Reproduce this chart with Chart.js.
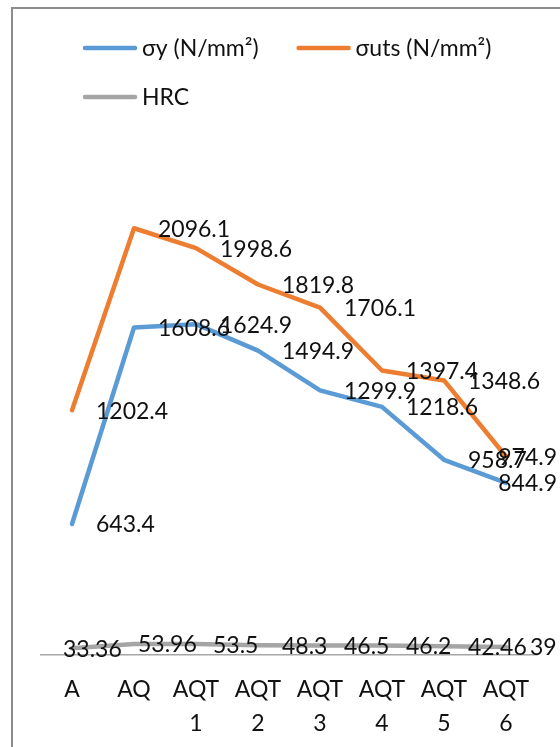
<!DOCTYPE html>
<html>
<head>
<meta charset="utf-8">
<script src="https://cdn.jsdelivr.net/npm/chart.js@4.4.1/dist/chart.umd.min.js"></script>
<style>
  html, body { margin: 0; padding: 0; background: #fff; }
  #wrap { width: 560px; height: 747px; position: relative; }
</style>
</head>
<body>
<div id="wrap"><canvas id="c" width="560" height="747"></canvas></div>
<script>
// Heat-treatment conditions along the x axis
const categories = ['A', 'AQ', ['AQT', '1'], ['AQT', '2'], ['AQT', '3'], ['AQT', '4'], ['AQT', '5'], ['AQT', '6']];
// Yield strength, N/mm²
const yieldStrength = [643.4, 1608.6, 1624.9, 1494.9, 1299.9, 1218.6, 958.7, 844.9];
// Ultimate tensile strength, N/mm²
const tensileStrength = [1202.4, 2096.1, 1998.6, 1819.8, 1706.1, 1397.4, 1348.6, 974.9];
// Rockwell C hardness
const hardness = [33.36, 53.96, 53.5, 48.3, 46.5, 46.2, 42.46, 39];

const seriesNames = ['σy (N/mm²)', 'σuts (N/mm²)', 'HRC'];
const FONT_FAMILY = 'Lato, "Noto Sans", "DejaVu Sans", sans-serif';
const FONT_SIZE = 23;

// White background and the thin frame around the chart
const framePlugin = {
  id: 'frame',
  beforeDraw(chart) {
    const ctx = chart.ctx;
    ctx.save();
    ctx.fillStyle = '#fff';
    ctx.fillRect(0, 0, chart.width, chart.height);
    ctx.strokeStyle = '#8c8c8c';
    ctx.lineWidth = 2;
    ctx.beginPath();
    ctx.moveTo(12, chart.height);
    ctx.lineTo(12, 8);
    ctx.lineTo(chart.width, 8);
    ctx.stroke();
    ctx.restore();
  }
};

// Value labels placed to the right of each point
const valueLabels = {
  id: 'valueLabels',
  afterDatasetsDraw(chart, args, opts) {
    const ctx = chart.ctx;
    ctx.save();
    ctx.font = FONT_SIZE + 'px ' + FONT_FAMILY;
    ctx.fillStyle = opts.color;
    ctx.textBaseline = 'middle';
    ctx.textAlign = 'left';
    chart.data.datasets.forEach((ds, i) => {
      const meta = chart.getDatasetMeta(i);
      const nudge = (opts.nudges && opts.nudges[i]) || [];
      meta.data.forEach((pt, j) => {
        const text = String(ds.data[j]);
        const w = ctx.measureText(text).width;
        let x = pt.x + opts.offset + (nudge[j] || 0);
        x = Math.min(x, opts.rightLimit - w);
        ctx.fillText(text, x, pt.y + opts.dy);
      });
    });
    ctx.restore();
  }
};

// Legend: line swatch + name, wrapping onto a second row
const lineLegend = {
  id: 'lineLegend',
  afterDraw(chart, args, opts) {
    const ctx = chart.ctx;
    ctx.save();
    ctx.font = FONT_SIZE + 'px ' + FONT_FAMILY;
    ctx.textBaseline = 'middle';
    ctx.textAlign = 'left';
    let x = opts.left, y = opts.top;
    chart.data.datasets.forEach((ds) => {
      const w = opts.swatch + opts.gap + ctx.measureText(ds.label).width;
      if (x > opts.left && x + w > opts.right) {
        x = opts.left;
        y += opts.rowHeight;
      }
      ctx.strokeStyle = ds.borderColor;
      ctx.lineWidth = ds.borderWidth;
      ctx.lineCap = 'round';
      ctx.beginPath();
      ctx.moveTo(x + 2, y);
      ctx.lineTo(x + opts.swatch - 2, y);
      ctx.stroke();
      ctx.fillStyle = '#111';
      ctx.fillText(ds.label, x + opts.swatch + opts.gap, y + 1);
      x += w + opts.itemGap;
    });
    ctx.restore();
  }
};

const lineStyle = { borderWidth: 4.5, pointRadius: 0, pointHoverRadius: 0, tension: 0,
  borderJoinStyle: 'round', borderCapStyle: 'round', fill: false };

new Chart(document.getElementById('c'), {
  type: 'line',
  data: {
    labels: categories,
    datasets: [
      { label: seriesNames[0], data: yieldStrength, borderColor: '#5b9bd5', ...lineStyle },
      { label: seriesNames[1], data: tensileStrength, borderColor: '#ed7d31', ...lineStyle },
      { label: seriesNames[2], data: hardness, borderColor: '#a5a5a5', ...lineStyle }
    ]
  },
  options: {
    responsive: false,
    devicePixelRatio: 1,
    animation: false,
    layout: { padding: { left: 41, right: 23, top: 146, bottom: 0 } },
    plugins: {
      legend: { display: false },
      tooltip: { enabled: false },
      valueLabels: {
        color: '#111', offset: 24, dy: 1, rightLimit: 557,
        nudges: { 2: [-33, -20, -7, 0, 0, 0, 0, 0] }
      },
      lineLegend: { left: 83, top: 48, right: 545, rowHeight: 49, swatch: 54, gap: 5, itemGap: 38 }
    },
    scales: {
      x: {
        type: 'category',
        offset: true,
        grid: { display: false, drawTicks: false },
        border: { display: true, color: '#a6a6a6', width: 1.5 },
        ticks: {
          color: '#111', padding: 18, maxRotation: 0, autoSkip: false,
          font: { family: FONT_FAMILY, size: FONT_SIZE, lineHeight: 34 / 23 }
        },
        afterFit(scale) { scale.height = 92; }
      },
      y: { display: false, min: 0, max: 2500 }
    }
  },
  plugins: [framePlugin, valueLabels, lineLegend]
});
</script>
</body>
</html>
